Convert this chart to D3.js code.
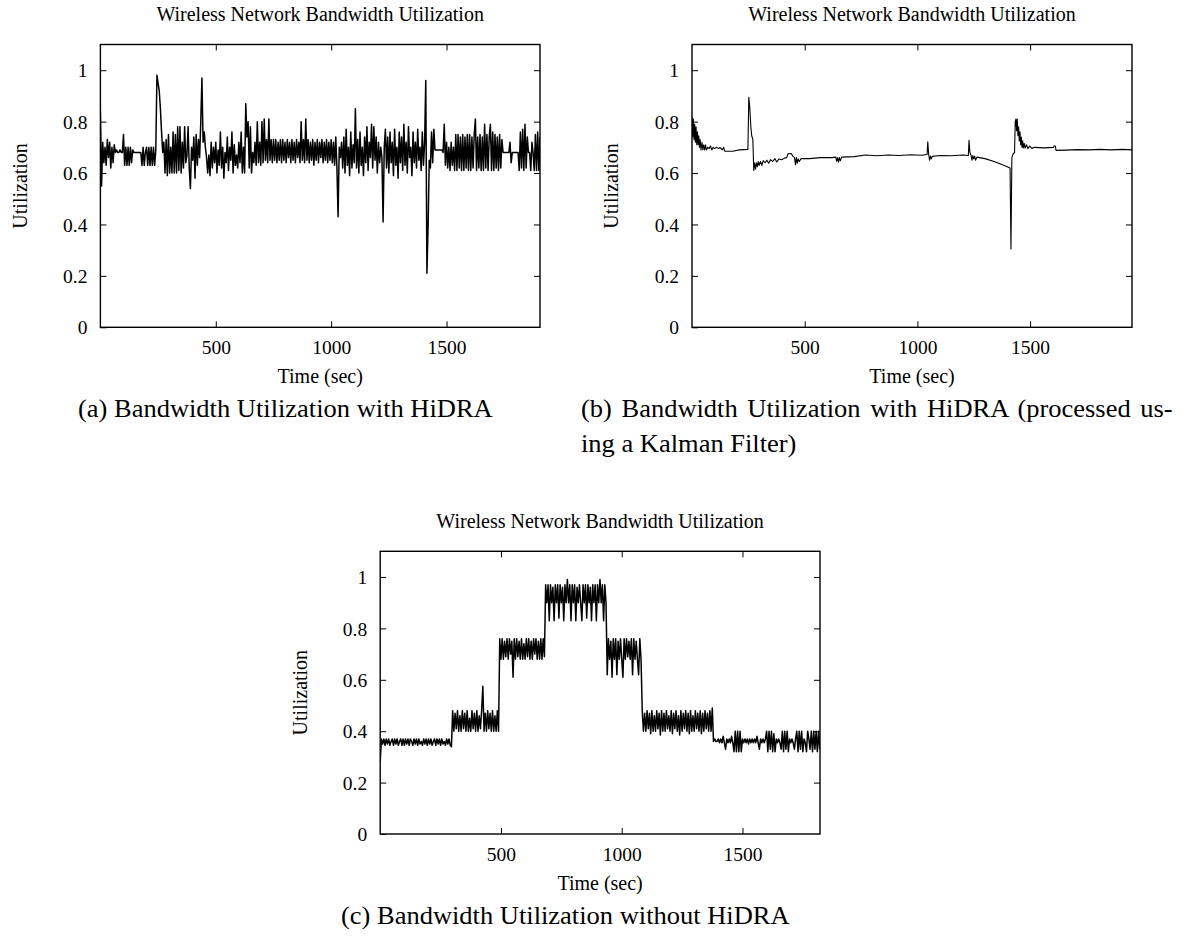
<!DOCTYPE html>
<html>
<head>
<meta charset="utf-8">
<script src="https://cdn.jsdelivr.net/npm/d3@7"></script>
<style>
  body { margin: 0; background: #fff; }
  svg { display: block; }
  svg text { font-family: "Liberation Serif", "Times New Roman", Times, serif; fill: #000; }
</style>
</head>
<body>
<svg id="fig" width="1187" height="936"></svg>
<script>
// ---- data -------------------------------------------------------------
// Utilization samples are logged every SAMPLE_STEP seconds.
const SAMPLE_STEP = 5;

// (a) with HiDRA, raw samples (t = 0, 5, 10, ... 1905 s)
const hidraUtil = [
  0.84,0.55,0.72,0.64,0.70,0.63,0.73,0.66,0.72,0.62,0.70,0.64,0.71,0.68,0.69,0.68,0.68,0.69,0.68,0.68,
  0.75,0.63,0.70,0.63,0.70,0.63,0.70,0.64,0.69,0.68,0.68,0.68,0.68,0.68,0.68,0.68,0.63,0.70,0.63,0.68,
  0.70,0.63,0.70,0.63,0.70,0.63,0.70,0.63,0.69,0.98,0.95,0.92,0.85,0.76,0.68,0.72,0.60,0.73,0.59,0.75,
  0.60,0.70,0.60,0.76,0.60,0.75,0.60,0.78,0.61,0.78,0.60,0.72,0.62,0.78,0.64,0.67,0.78,0.62,0.54,0.70,
  0.65,0.74,0.58,0.75,0.63,0.73,0.66,0.80,0.97,0.72,0.76,0.70,0.66,0.60,0.67,0.59,0.72,0.62,0.70,0.64,
  0.72,0.60,0.69,0.63,0.76,0.62,0.70,0.58,0.68,0.64,0.74,0.61,0.70,0.65,0.76,0.60,0.71,0.63,0.67,0.62,
  0.72,0.64,0.76,0.60,0.70,0.60,0.87,0.74,0.80,0.62,0.78,0.60,0.68,0.64,0.72,0.63,0.80,0.64,0.72,0.63,
  0.80,0.64,0.81,0.65,0.73,0.64,0.81,0.65,0.73,0.64,0.73,0.65,0.73,0.64,0.72,0.65,0.73,0.64,0.73,0.65,
  0.72,0.64,0.73,0.66,0.72,0.64,0.73,0.65,0.72,0.64,0.73,0.66,0.72,0.64,0.80,0.65,0.73,0.64,0.81,0.65,
  0.73,0.64,0.72,0.65,0.73,0.63,0.72,0.65,0.73,0.64,0.72,0.66,0.73,0.64,0.72,0.65,0.73,0.64,0.72,0.65,
  0.73,0.64,0.72,0.63,0.74,0.62,0.43,0.70,0.66,0.72,0.62,0.74,0.60,0.77,0.63,0.70,0.59,0.76,0.62,0.71,
  0.64,0.85,0.62,0.73,0.60,0.76,0.63,0.70,0.59,0.74,0.64,0.78,0.61,0.72,0.66,0.79,0.62,0.78,0.65,0.74,
  0.60,0.72,0.64,0.70,0.66,0.41,0.70,0.77,0.62,0.74,0.60,0.76,0.64,0.72,0.59,0.77,0.63,0.70,0.58,0.76,
  0.64,0.74,0.61,0.79,0.63,0.72,0.60,0.78,0.66,0.70,0.59,0.76,0.64,0.72,0.62,0.77,0.65,0.70,0.61,0.76,
  0.63,0.72,0.96,0.21,0.39,0.65,0.62,0.76,0.64,0.77,0.69,0.69,0.69,0.69,0.69,0.69,0.69,0.68,0.79,0.63,
  0.72,0.62,0.70,0.61,0.72,0.63,0.70,0.61,0.75,0.61,0.75,0.62,0.74,0.61,0.75,0.61,0.74,0.62,0.75,0.61,
  0.75,0.61,0.74,0.62,0.75,0.81,0.61,0.74,0.62,0.75,0.61,0.74,0.61,0.79,0.62,0.75,0.61,0.74,0.79,0.61,
  0.76,0.61,0.75,0.62,0.74,0.61,0.75,0.62,0.73,0.68,0.68,0.68,0.68,0.68,0.68,0.72,0.64,0.68,0.68,0.68,
  0.68,0.68,0.68,0.61,0.76,0.62,0.77,0.61,0.79,0.62,0.74,0.68,0.68,0.61,0.72,0.68,0.61,0.75,0.61,0.76,0.61,0.74
];

// (b) with HiDRA after Kalman filtering (irregular sample times, s)
const kalmanTime = [
  0,3,6,9,12,15,18,21,24,27,30,33,36,40,44,48,52,56,60,64,
  70,76,82,88,94,100,110,118,124,134,140,146,180,210,248,252,256,261,265,270,
  274,278,282,286,290,294,298,304,310,316,324,332,340,348,358,368,376,386,398,410,
  420,426,440,448,455,459,463,467,471,476,484,520,570,620,638,642,646,650,654,658,
  664,720,770,820,870,920,970,1020,1043,1046,1050,1054,1058,1062,1066,1100,1150,1200,1226,1229,
  1233,1238,1242,1246,1250,1254,1258,1264,1300,1340,1375,1411,1415,1419,1425,1431,1434,1437,1440,1443,
  1446,1449,1452,1455,1458,1461,1464,1467,1470,1474,1478,1484,1490,1498,1508,1520,1560,1604,1606,1612,
  1615,1660,1710,1760,1810,1860,1910,1952
];
const kalmanUtil = [
  0.82,0.74,0.81,0.73,0.79,0.72,0.78,0.71,0.76,0.71,0.745,0.70,0.73,0.69,0.72,0.69,0.71,0.69,0.71,0.69,
  0.70,0.695,0.705,0.69,0.70,0.695,0.70,0.695,0.70,0.69,0.70,0.685,0.685,0.69,0.692,0.895,0.86,0.78,0.745,0.73,
  0.61,0.64,0.615,0.64,0.625,0.645,0.63,0.645,0.63,0.648,0.64,0.65,0.638,0.652,0.645,0.656,0.643,0.655,0.652,0.658,
  0.66,0.675,0.676,0.665,0.66,0.632,0.66,0.638,0.655,0.645,0.656,0.656,0.66,0.66,0.662,0.645,0.66,0.642,0.66,0.648,
  0.662,0.664,0.67,0.667,0.67,0.668,0.671,0.669,0.672,0.722,0.672,0.65,0.666,0.655,0.665,0.668,0.667,0.67,0.668,0.727,
  0.68,0.668,0.65,0.668,0.655,0.666,0.65,0.662,0.656,0.645,0.633,0.62,0.305,0.66,0.675,0.68,0.80,0.81,0.765,0.81,
  0.745,0.78,0.725,0.76,0.71,0.74,0.70,0.725,0.698,0.715,0.697,0.71,0.695,0.705,0.696,0.70,0.698,0.70,0.705,0.705,
  0.688,0.689,0.691,0.69,0.692,0.69,0.692,0.69
];

// (c) without HiDRA, raw samples (t = 0, 5, 10, ... 1820 s)
const noHidraUtil = [
  0.28,0.37,0.35,0.37,0.345,0.37,0.35,0.37,0.345,0.36,0.37,0.345,0.37,0.35,0.37,0.345,0.36,0.37,0.345,0.37,
  0.345,0.37,0.35,0.37,0.345,0.37,0.36,0.345,0.37,0.35,0.37,0.345,0.37,0.35,0.36,0.345,0.37,0.35,0.37,0.345,
  0.37,0.35,0.37,0.345,0.36,0.37,0.345,0.37,0.35,0.37,0.345,0.37,0.35,0.36,0.345,0.37,0.35,0.37,0.345,0.34,
  0.48,0.40,0.47,0.41,0.48,0.40,0.46,0.40,0.48,0.41,0.47,0.40,0.48,0.40,0.45,0.40,0.48,0.41,0.47,0.40,
  0.48,0.40,0.46,0.41,0.48,0.575,0.40,0.47,0.40,0.48,0.41,0.47,0.40,0.48,0.40,0.46,0.40,0.48,0.40,0.76,
  0.68,0.76,0.68,0.75,0.69,0.76,0.68,0.76,0.70,0.75,0.61,0.76,0.68,0.76,0.69,0.75,0.68,0.76,0.68,0.74,
  0.68,0.76,0.69,0.76,0.68,0.75,0.68,0.76,0.70,0.76,0.68,0.75,0.68,0.76,0.68,0.76,0.69,0.97,0.90,0.97,
  0.83,0.97,0.90,0.96,0.83,0.97,0.90,0.97,0.84,0.97,0.90,0.96,0.83,0.97,0.90,0.99,0.90,0.97,0.83,0.97,
  0.90,0.97,0.83,0.96,0.90,0.97,0.90,0.83,0.97,0.90,0.97,0.84,0.97,0.90,0.96,0.83,0.97,0.90,0.97,0.83,
  0.97,0.90,0.99,0.90,0.97,0.83,0.97,0.90,0.62,0.76,0.68,0.75,0.61,0.76,0.68,0.76,0.62,0.75,0.68,0.76,
  0.68,0.61,0.76,0.68,0.76,0.69,0.75,0.68,0.76,0.62,0.76,0.68,0.75,0.68,0.62,0.76,0.68,0.48,0.40,0.47,
  0.40,0.48,0.41,0.47,0.39,0.48,0.40,0.46,0.40,0.48,0.41,0.47,0.385,0.48,0.40,0.47,0.40,0.48,0.41,0.46,
  0.40,0.48,0.39,0.47,0.41,0.48,0.40,0.46,0.385,0.48,0.40,0.47,0.41,0.48,0.40,0.47,0.39,0.48,0.40,0.46,
  0.40,0.48,0.41,0.47,0.40,0.48,0.39,0.47,0.40,0.48,0.41,0.47,0.40,0.48,0.40,0.49,0.36,0.37,0.36,0.36,
  0.37,0.355,0.37,0.355,0.38,0.355,0.33,0.37,0.355,0.37,0.355,0.38,0.355,0.32,0.40,0.32,0.40,0.32,0.40,0.32,
  0.37,0.355,0.37,0.355,0.37,0.35,0.37,0.355,0.37,0.355,0.37,0.355,0.38,0.355,0.33,0.37,0.355,0.37,0.355,0.37,
  0.40,0.32,0.40,0.33,0.40,0.32,0.39,0.32,0.37,0.355,0.37,0.355,0.33,0.40,0.32,0.40,0.33,0.40,0.32,0.37,
  0.355,0.37,0.355,0.33,0.37,0.40,0.32,0.40,0.33,0.40,0.32,0.37,0.355,0.32,0.40,0.37,0.33,0.40,0.32,0.40,
  0.33,0.40,0.32,0.40,0.33
];

// Axis ticks and texts
const yTicks = [0, 0.2, 0.4, 0.6, 0.8, 1];
const xTicks = [500, 1000, 1500];
const yTickLabels = ["0", "0.2", "0.4", "0.6", "0.8", "1"];
const chartTitle = "Wireless Network Bandwidth Utilization";
const xAxisLabel = "Time (sec)";
const yAxisLabel = "Utilization";
const captionA = ["(a) Bandwidth Utilization with HiDRA"];
const captionB = ["(b) Bandwidth Utilization with HiDRA (processed us-", "ing a Kalman Filter)"];
const captionC = ["(c) Bandwidth Utilization without HiDRA"];

// ---- layout -----------------------------------------------------------
const FONT = '"Liberation Serif", "Times New Roman", Times, serif';
const Y_MAX = 1.1;

const panels = [
  { id: "a", left: 100.4, top: 44.5, width: 439.6, height: 282.8, tMax: 1905,
    times: hidraUtil.map((_, i) => i * SAMPLE_STEP), values: hidraUtil, lineWidth: 1.5,
    titleY: 21, caption: captionA, capX: 78, capY: 417, capW: [415] },
  { id: "b", left: 692, top: 44.5, width: 440, height: 282.8, tMax: 1952,
    times: kalmanTime, values: kalmanUtil, lineWidth: 1.1,
    titleY: 21, caption: captionB, capX: 581, capY: 417, capW: [592, null] },
  { id: "c", left: 380.2, top: 551.3, width: 439.8, height: 282.7, tMax: 1821,
    times: noHidraUtil.map((_, i) => i * SAMPLE_STEP), values: noHidraUtil, lineWidth: 1.5,
    titleY: 528, caption: captionC, capX: 341, capY: 924, capW: [449] }
];

const svg = d3.select("#fig");
const TICK = 6;
const CAPTION_SIZE = 24.5;
const CAPTION_LINE = 35;

// horizontal scale of the caption face, taken from caption (a)
let capScale = 1;

panels.forEach(p => {
  const x = d3.scaleLinear().domain([0, p.tMax]).range([p.left, p.left + p.width]);
  const y = d3.scaleLinear().domain([0, Y_MAX]).range([p.top + p.height, p.top]);
  const g = svg.append("g").attr("class", "panel-" + p.id);

  // clip for the trace
  const clipId = "clip-" + p.id;
  svg.append("clipPath").attr("id", clipId)
    .append("rect").attr("x", p.left).attr("y", p.top)
    .attr("width", p.width).attr("height", p.height);

  // the utilization trace
  const pts = p.times.map((t, i) => [t, p.values[i]]);
  const line = d3.line().x(d => x(d[0])).y(d => y(d[1]));
  g.append("path")
    .datum(pts)
    .attr("clip-path", `url(#${clipId})`)
    .attr("d", line)
    .attr("fill", "none")
    .attr("stroke", "#000")
    .attr("stroke-width", p.lineWidth)
    .attr("stroke-linejoin", "round");

  // axes: labelled on left/bottom, mirrored ticks on right/top, all pointing inward
  const styleAxis = sel => {
    sel.attr("font-family", null).attr("font-size", null);
    sel.select(".domain").remove();
    sel.selectAll(".tick line").attr("stroke", "#000").attr("stroke-width", 1);
    sel.selectAll("text").style("font-family", FONT).style("font-size", "19.5px").attr("fill", "#000");
  };
  g.append("g").attr("transform", `translate(${p.left},0)`)
    .call(d3.axisLeft(y).tickValues(yTicks).tickSize(-TICK).tickPadding(13)
      .tickFormat((d, i) => yTickLabels[i]))
    .call(styleAxis)
    .call(s => s.selectAll("text").attr("dy", "0.34em"));
  g.append("g").attr("transform", `translate(${p.left + p.width},0)`)
    .call(d3.axisRight(y).tickValues(yTicks.slice(1)).tickSize(-TICK).tickFormat(""))
    .call(styleAxis);
  g.append("g").attr("transform", `translate(0,${p.top + p.height})`)
    .call(d3.axisBottom(x).tickValues(xTicks).tickSize(-TICK).tickPadding(13).tickFormat(d3.format("d")))
    .call(styleAxis);
  g.append("g").attr("transform", `translate(0,${p.top})`)
    .call(d3.axisTop(x).tickValues(xTicks).tickSize(-TICK).tickFormat(""))
    .call(styleAxis);

  // frame
  g.append("rect")
    .attr("x", p.left).attr("y", p.top)
    .attr("width", p.width).attr("height", p.height)
    .attr("fill", "none").attr("stroke", "#000").attr("stroke-width", 1.4);

  const cx = p.left + p.width / 2;
  // title
  g.append("text").text(chartTitle)
    .attr("x", cx).attr("y", p.titleY)
    .attr("text-anchor", "middle")
    .style("font-size", "20px");
  // x label
  g.append("text").text(xAxisLabel)
    .attr("x", cx).attr("y", p.top + p.height + 56)
    .attr("text-anchor", "middle")
    .style("font-size", "20px");
  // y label
  g.append("text").text(yAxisLabel)
    .attr("transform", `translate(${p.left - 73.6},${p.top + p.height / 2}) rotate(-90)`)
    .attr("text-anchor", "middle")
    .style("font-size", "20px");
});

// captions: first line sets the face width, justified lines spread their spaces
panels.forEach((p, pi) => {
  p.caption.forEach((txt, li) => {
    const t = svg.append("text").text(txt)
      .attr("x", 0).attr("y", 0)
      .style("font-size", CAPTION_SIZE + "px");
    const natural = t.node().getComputedTextLength();
    if (pi === 0 && li === 0) capScale = p.capW[0] / natural;
    const target = p.capW[li];
    if (target && li < p.caption.length - 1) {
      const spaces = (txt.match(/ /g) || []).length;
      const extra = target / capScale - natural;
      if (spaces > 0) t.attr("word-spacing", extra / spaces);
    }
    t.attr("transform", `translate(${p.capX},${p.capY + li * CAPTION_LINE}) scale(${capScale},1)`);
  });
});
</script>
</body>
</html>
